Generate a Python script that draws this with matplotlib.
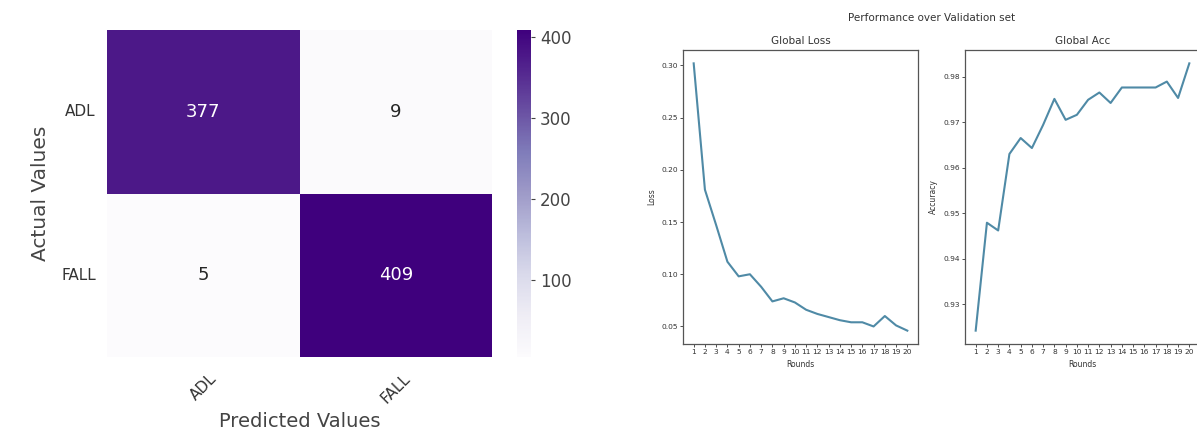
import numpy as np
import matplotlib
matplotlib.use("Agg")
import matplotlib.pyplot as plt
import seaborn as sns

# ---- data ----
class_labels = ["ADL", "FALL"]
cm_row_adl = [377, 9]
cm_row_fall = [5, 409]
cbar_ticks = [100, 200, 300, 400]

rounds = list(range(1, 21))
global_loss = [0.302, 0.181, 0.147, 0.112, 0.098, 0.100, 0.088, 0.074, 0.077, 0.073,
               0.066, 0.062, 0.059, 0.056, 0.054, 0.054, 0.050, 0.060, 0.051, 0.046]
global_acc = [0.9242, 0.9479, 0.9462, 0.9630, 0.9665, 0.9643, 0.9694, 0.9751, 0.9705, 0.9716,
              0.9749, 0.9765, 0.9742, 0.9776, 0.9776, 0.9776, 0.9776, 0.9789, 0.9753, 0.9829]

W, H = 1197, 445
fig = plt.figure(figsize=(W / 100, H / 100), dpi=100)

def box(x0, y0, x1, y1):
    return [x0 / W, 1 - y1 / H, (x1 - x0) / W, (y1 - y0) / H]

# ---- confusion matrix ----
ax_hm = fig.add_axes(box(107, 30, 492, 357))
ax_cb = fig.add_axes(box(517, 30, 531, 357))
cm = np.array([cm_row_adl, cm_row_fall])
sns.heatmap(cm, annot=True, fmt="d", cmap="Purples", ax=ax_hm, cbar_ax=ax_cb,
            annot_kws={"fontsize": 13}, xticklabels=class_labels, yticklabels=class_labels)
ax_hm.set_xlabel("Predicted Values", fontsize=14, color="#444444", labelpad=4)
ax_hm.set_ylabel("Actual Values", fontsize=14.5, color="#444444", labelpad=8)
ax_hm.tick_params(axis="both", length=0, labelsize=11, colors="#333333")
ax_hm.tick_params(axis="x", pad=10)
ax_hm.tick_params(axis="y", pad=8)
plt.setp(ax_hm.get_xticklabels(), rotation=45)
plt.setp(ax_hm.get_yticklabels(), rotation=0)
ax_cb.set_yticks(cbar_ticks)
ax_cb.tick_params(labelsize=12, colors="#444444", length=3, width=0.8)
for t in ax_cb.get_yticklabels():
    t.set_color("#444444")

# ---- validation curves ----
line_color = "#4f8aa6"
ax_l = fig.add_axes(box(683, 50, 918, 344))
ax_a = fig.add_axes(box(965, 50, 1200, 344))

ax_l.plot(rounds, global_loss, color=line_color, lw=1.5)
ax_l.set_title("Global Loss", fontsize=7.5, pad=4, color="#333333")
ax_l.set_xlabel("Rounds", fontsize=5.5, color="#333333")
ax_l.set_ylabel("Loss", fontsize=5.5, color="#333333")
ax_l.set_yticks([0.05, 0.10, 0.15, 0.20, 0.25, 0.30])

ax_a.plot(rounds, global_acc, color=line_color, lw=1.5)
ax_a.set_title("Global Acc", fontsize=7.5, pad=4, color="#333333")
ax_a.set_xlabel("Rounds", fontsize=5.5, color="#333333")
ax_a.set_ylabel("Accuracy", fontsize=5.5, color="#333333")
ax_a.set_yticks([0.93, 0.94, 0.95, 0.96, 0.97, 0.98])

for ax in (ax_l, ax_a):
    ax.set_xticks(rounds)
    ax.tick_params(labelsize=5.4, length=2, width=0.6, pad=1.5, colors="#333333")
    for s in ax.spines.values():
        s.set_color("#555555")
        s.set_linewidth(0.9)

fig.text(932 / W, 1 - 18 / H, "Performance over Validation set", fontsize=7.5,
         ha="center", va="center", color="#333333")

fig.savefig("out.png", dpi=100)
